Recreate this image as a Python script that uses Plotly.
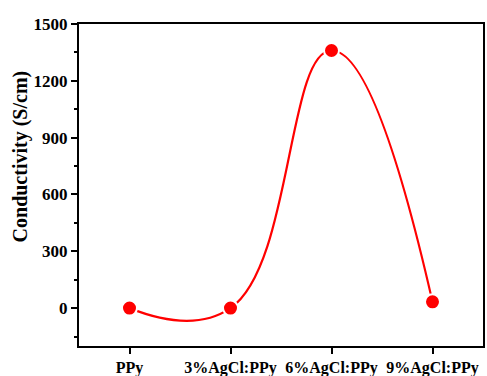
import plotly.graph_objects as go

categories = ["PPy", "3%AgCl:PPy", "6%AgCl:PPy", "9%AgCl:PPy"]
conductivity = [0, 0, 1360, 33]
y_ticks = [0, 300, 600, 900, 1200, 1500]

fig = go.Figure()
fig.add_trace(go.Scatter(
    x=list(range(len(categories))), y=conductivity,
    mode="lines+markers",
    line=dict(color="#ff0000", width=2.2, shape="spline", smoothing=1.3),
    marker=dict(color="#ff0000", size=15, line=dict(color="white", width=2)),
    cliponaxis=True,
))

font = "Liberation Serif"
fig.update_layout(
    width=487, height=376,
    margin=dict(l=79, r=4, t=24, b=30),
    paper_bgcolor="white", plot_bgcolor="white",
    showlegend=False,
    font=dict(family=font, color="black"),
)
fig.update_xaxes(
    range=[-0.5, 3.5], automargin=False,
    tickmode="array", tickvals=list(range(len(categories))), ticktext=[f"<b>{c}</b>" for c in categories],
    ticks="outside", ticklen=6, tickwidth=2, tickcolor="black",
    showline=True, linecolor="black", linewidth=2, mirror=True,
    showgrid=False, zeroline=False,
    tickfont=dict(family=font, size=16, color="black"),
    ticklabelstandoff=0,
)
fig.update_yaxes(
    range=[-200, 1500], automargin=False,
    tickmode="array", tickvals=y_ticks, ticktext=[f"<b>{v}</b>" for v in y_ticks],
    ticks="outside", ticklen=6, tickwidth=2, tickcolor="black",
    minor=dict(ticks="outside", ticklen=3, tickwidth=2, tickcolor="black", dtick=150, tick0=-150, showgrid=False),
    showline=True, linecolor="black", linewidth=2, mirror=True,
    showgrid=False, zeroline=False,
    tickfont=dict(family=font, size=17, color="black"),
)
fig.add_annotation(
    text="<b>Conductivity (S/cm)</b>", textangle=-90,
    xref="paper", yref="paper", x=-0.145, y=0.59,
    xanchor="center", yanchor="middle", showarrow=False,
    font=dict(family=font, size=20, color="black"),
)

fig.write_html("out.html")
